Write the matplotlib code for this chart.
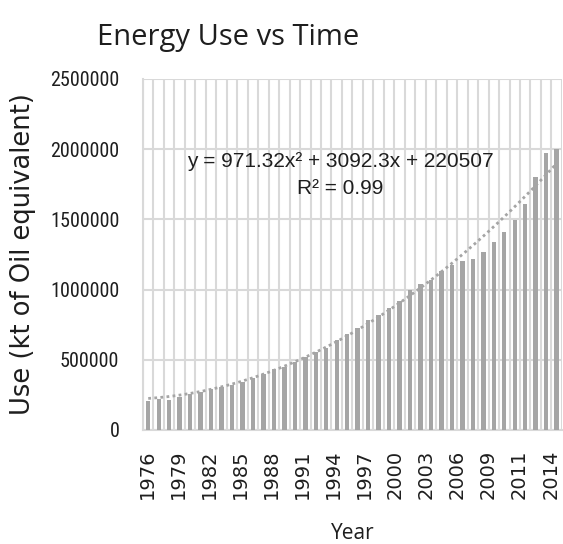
import numpy as np
import matplotlib
matplotlib.use("Agg")
import matplotlib.pyplot as plt
import matplotlib.transforms as mtransforms

# category labels as they sit on the axis (40 categories, labelled every 3rd)
years = [1976, 1977, 1978, 1979, 1980, 1981, 1982, 1983, 1984, 1985,
         1986, 1987, 1988, 1989, 1990, 1991, 1992, 1993, 1994, 1995,
         1996, 1997, 1998, 1999, 2000, 2001, 2002, 2003, 2004, 2005,
         2006, 2007, 2008, 2009, 2010, 2010, 2011, 2012, 2013, 2014]

# energy use, kt of oil equivalent
use = [204000, 220000, 214000, 233000, 257000, 267000, 293000, 305000,
       320000, 340000, 370000, 399000, 432000, 446000, 486000, 522000,
       553000, 582000, 640000, 684000, 724000, 785000, 819000, 867000,
       917000, 1000000, 1040000, 1068000, 1133000, 1175000, 1205000,
       1217000, 1270000, 1341000, 1408000, 1498000, 1610000, 1800000,
       1975000, 2003000]

# quadratic trendline, as reported on the chart
trend_coef = [971.32, 3092.3, 220507]
eq_text = "y = 971.32x² + 3092.3x + 220507"
r2_text = "R² = 0.99"

bar_color = "#a5a5a5"
grid_color = "#d9d9d9"
text_color = "#1e1e1e"
narrow = ["Liberation Sans Narrow", "Roboto Condensed", "Noto Sans Condensed",
          "Liberation Sans"]

fig = plt.figure(figsize=(5.63, 5.44), dpi=100)
ax = fig.add_axes([0.254, 0.2096, 0.744, 0.6452])

pos = np.arange(len(use))
ax.bar(pos, use, width=0.42, color=bar_color, zorder=3)

xs = np.linspace(pos[0], pos[-1], 400)
ax.plot(xs, np.polyval(trend_coef, xs + 1), color=bar_color, lw=2.0,
        linestyle=(0, (1, 1.2)), zorder=4)

ax.set_xlim(-0.5, len(use) - 0.5)
ax.set_ylim(0, 2500000)
ax.set_yticks(np.arange(0, 2500001, 500000))
ax.set_yticklabels([f"{v:d}" for v in np.arange(0, 2500001, 500000)],
                   family=narrow, fontsize=14.5, color=text_color)

tick_idx = pos[::3]
ax.set_xticks(tick_idx)
ax.set_xticklabels([str(years[i]) for i in tick_idx], rotation=90,
                   family="DejaVu Sans", fontsize=14, color=text_color)

# vertical gridlines between categories, horizontal at the value ticks
ax.set_xticks(np.arange(-0.5, len(use), 1), minor=True)
ax.grid(True, which="minor", axis="x", color=grid_color, lw=1.5, zorder=0)
ax.grid(True, which="major", axis="y", color=grid_color, lw=1.5, zorder=0)
ax.tick_params(axis="both", which="both", length=0)
ax.tick_params(axis="x", pad=14)
ax.tick_params(axis="y", pad=17)

# labels sit a little left of the category centres, more so towards the end
xlabels = ax.get_xticklabels()
for k, lab in enumerate(xlabels):
    dx = -1 - 5 * k / (len(xlabels) - 1)
    shift = mtransforms.ScaledTranslation(dx / 100, 0, fig.dpi_scale_trans)
    lab.set_transform(lab.get_transform() + shift)

for side in ["top", "right"]:
    ax.spines[side].set_visible(False)
ax.spines["left"].set_color(grid_color)
ax.spines["bottom"].set_color(grid_color)
ax.spines["left"].set_linewidth(1.5)
ax.spines["bottom"].set_linewidth(1.5)

ax.text(0.47, 0.766, eq_text, transform=ax.transAxes, ha="center",
        va="center", fontsize=15, family="Liberation Sans", color=text_color)
ax.text(0.47, 0.689, r2_text, transform=ax.transAxes, ha="center",
        va="center", fontsize=15, family="Liberation Sans", color=text_color)

ax.set_xlabel("Year", fontsize=15, family="Open Sans", color=text_color)
ax.set_ylabel("Use (kt of Oil equivalent)", fontsize=18.5,
              family="DejaVu Sans", color=text_color)
ax.yaxis.set_label_coords(-0.256, 0.5)
ax.xaxis.set_label_coords(0.5, -0.265)

fig.text(228 / 563, 1 - 37 / 544, "Energy Use vs Time", ha="center",
         va="center", fontsize=21, family="Open Sans", color=text_color)

fig.savefig("out.png", dpi=100)
